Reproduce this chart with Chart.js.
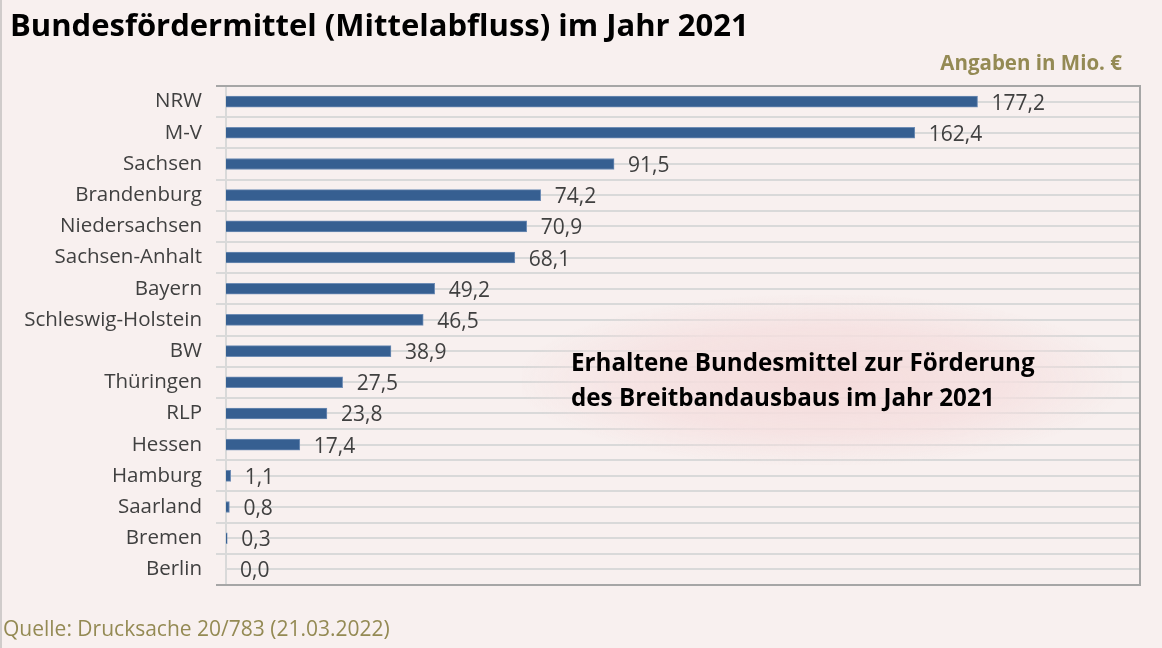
<!DOCTYPE html>
<html>
<head>
<meta charset="utf-8">
<script src="https://cdn.jsdelivr.net/npm/chart.js@4"></script>
<style>
  body { margin: 0; background: #f8f0ef; }
  #wrap { position: relative; width: 1162px; height: 648px; background: #f8f0ef; border-left: 2px solid #d0cccb; box-sizing: border-box; overflow: hidden; }
  #title { position: absolute; left: 8px; top: 3px; font: bold 31px "Open Sans", sans-serif; color: #000; white-space: nowrap; }
  #unit { position: absolute; right: 40px; top: 48px; font: bold 20.5px "Open Sans", sans-serif; color: #948a54; white-space: nowrap; }
  #source { position: absolute; left: 1px; top: 614px; font: 21px "Open Sans", sans-serif; color: #948a54; white-space: nowrap; }
  #glow { position: absolute; left: 520px; top: 295px; width: 600px; height: 170px; background: radial-gradient(ellipse at center, rgba(244,218,218,0.95) 0%, rgba(245,224,224,0.8) 45%, rgba(248,240,239,0) 72%); }
  #note { position: absolute; left: 569px; top: 344px; font: bold 24.2px "Open Sans", sans-serif; color: #000; line-height: 35px; white-space: nowrap; }
  canvas { position: absolute; left: 0; top: 0; }
</style>
</head>
<body>
<div id="wrap">
  <canvas id="myChart" width="1160" height="648"></canvas>
  <div id="title">Bundesfördermittel (Mittelabfluss) im Jahr 2021</div>
  <div id="unit">Angaben in Mio. €</div>
  <div id="glow"></div>
  <div id="note">Erhaltene Bundesmittel zur Förderung<br>des Breitbandausbaus im Jahr 2021</div>
  <div id="source">Quelle: Drucksache 20/783 (21.03.2022)</div>
</div>
<script>
var ctx = document.getElementById("myChart").getContext("2d");

const laender = ["NRW","M-V","Sachsen","Brandenburg","Niedersachsen","Sachsen-Anhalt","Bayern",
  "Schleswig-Holstein","BW","Thüringen","RLP","Hessen","Hamburg","Saarland","Bremen","Berlin"];
const mittel = [177.2,162.4,91.5,74.2,70.9,68.1,49.2,46.5,38.9,27.5,23.8,17.4,1.1,0.8,0.3,0.0];
const xMax = 215.5;

// value labels next to the bars, german decimal comma
const valueLabels = {
  id: "valueLabels",
  afterDatasetsDraw(chart) {
    const c = chart.ctx;
    const meta = chart.getDatasetMeta(0);
    c.save();
    c.font = "21px 'Open Sans', sans-serif";
    c.fillStyle = "#404040";
    c.textAlign = "left";
    c.textBaseline = "middle";
    meta.data.forEach(function (bar, i) {
      c.fillText(mittel[i].toFixed(1).replace(".", ","), bar.x + 14, bar.y + 2);
    });
    c.restore();
  }
};

// grey frame round the plot area (top, right, bottom)
const frame = {
  id: "frame",
  afterDraw(chart) {
    const a = chart.chartArea;
    const c = chart.ctx;
    c.save();
    c.strokeStyle = "#a6a6a6";
    c.lineWidth = 2;
    c.beginPath();
    c.moveTo(a.left - 10, a.top);
    c.lineTo(a.right, a.top);
    c.lineTo(a.right, a.bottom);
    c.lineTo(a.left - 10, a.bottom);
    c.stroke();
    c.restore();
  }
};

const chart = new Chart(ctx, {
  type: "bar",
  data: {
    labels: laender,
    datasets: [{
      data: mittel,
      backgroundColor: "#365f91",
      borderColor: "#6f8db5",
      borderWidth: 1,
      barThickness: 11
    }]
  },
  plugins: [valueLabels, frame],
  options: {
    indexAxis: "y",
    responsive: false,
    animation: false,
    layout: { padding: { top: 86, bottom: 63, right: 22, left: 0 } },
    plugins: { legend: { display: false }, tooltip: { enabled: false } },
    scales: {
      x: {
        min: 0, max: xMax,
        display: false
      },
      y: {
        afterFit(scale) { scale.width = 224; },
        grid: { color: "#d9d9d9", lineWidth: 2, tickLength: 10, offset: true },
        border: { color: "#d9d9d9", width: 2 },
        ticks: { color: "#404040", font: { family: "Open Sans", size: 20.5 }, padding: 14 }
      },
      y2: {
        type: "category",
        labels: laender,
        position: "left",
        offset: true,
        afterFit(scale) { scale.width = 0; },
        grid: { color: "#d9d9d9", lineWidth: 2, offset: false, drawTicks: false },
        border: { display: false },
        ticks: { display: false }
      }
    }
  }
});
</script>
</body>
</html>
